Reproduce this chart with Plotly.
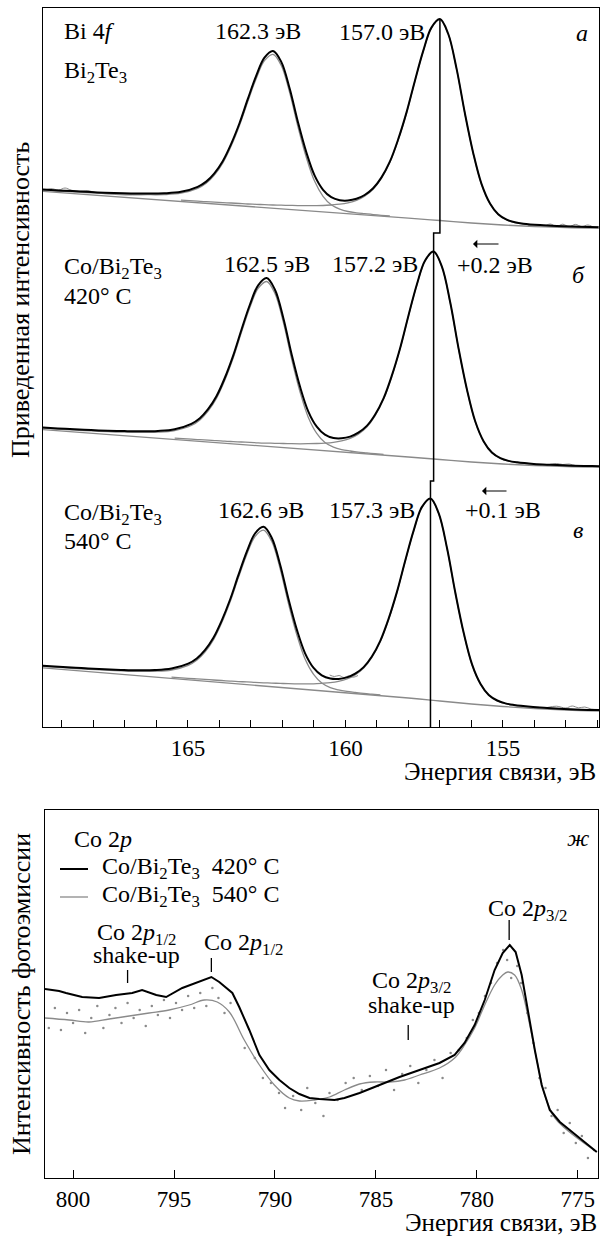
import plotly.graph_objects as go

# ---------------- Bi 4f spectra (upper plot) ----------------
# binding energies (eV) and normalised intensities (arb. units)
E_a = [169.62, 169.46, 168.93, 168.40, 167.87, 167.34, 166.81, 166.28, 165.75, 165.22, 164.69,
       164.42, 164.16, 163.89, 163.63, 163.36, 163.10, 162.83, 162.57, 162.30, 162.04, 161.77,
       161.51, 161.24, 160.98, 160.71, 160.45, 160.18, 159.92, 159.65, 159.39, 159.12, 158.86,
       158.59, 158.33, 158.06, 157.80, 157.53, 157.27, 157.00, 156.74, 156.47, 156.21, 155.94,
       155.68, 155.41, 155.15, 154.88, 154.62, 154.35, 153.82, 153.29, 152.76, 152.23, 151.97]
fit_a = [537.5, 537.2, 536.3, 535.5, 534.6, 534.0, 533.6, 533.4, 533.7, 535.2, 540.2,
         545.4, 553.7, 566.1, 582.9, 604.0, 627.8, 651.3, 669.3, 676.0, 665.4, 638.5,
         605.2, 574.6, 551.6, 537.2, 529.8, 526.8, 526.5, 528.2, 532.0, 538.7, 549.4,
         565.3, 587.2, 614.6, 645.6, 676.1, 699.4, 707.9, 693.5, 658.1, 614.2, 573.6,
         543.1, 523.5, 512.7, 507.3, 504.7, 503.3, 501.9, 501.0, 500.4, 499.9, 499.8]
peak1_a = [536.9, 536.6, 535.6, 534.7, 533.8, 533.1, 532.6, 532.3, 532.4, 533.8, 538.6,
           543.7, 551.9, 564.1, 580.7, 601.7, 625.3, 648.6, 666.3, 672.7, 661.7, 634.4,
           600.7, 569.5, 545.9, 530.7, 522.2, 517.8, 515.5, 514.2, 513.3, 512.4, 511.7, 511.0]
peak2_a = [526.8, 525.8, 525.3, 524.9, 524.4, 524.0, 523.5, 523.0, 522.7, 522.3, 522.0,
           521.8, 521.6, 521.4, 521.4, 521.4, 521.5, 522.0, 522.8, 524.2, 526.6, 530.8,
           537.7, 548.5, 564.6, 586.5, 614.0, 645.1, 675.6, 699.0, 707.5, 693.2, 657.8,
           613.9, 573.3, 542.8, 523.3, 512.5, 507.0, 504.4, 503.1, 501.7, 500.8, 500.2,
           499.7, 499.6]
bgE = [169.6, 158.0, 157.0, 156.0, 155.0, 154.0, 153.0, 151.95]
bg_a = [535.6, 508.8, 506.5, 504.0, 502.0, 500.5, 499.5, 499.0]

E_b = [169.66, 169.13, 168.60, 168.07, 167.54, 167.01, 166.48, 165.95, 165.42, 164.89,
       164.62, 164.36, 164.09, 163.83, 163.56, 163.30, 163.03, 162.77, 162.50, 162.24,
       161.97, 161.71, 161.44, 161.18, 160.91, 160.65, 160.38, 160.12, 159.85, 159.59,
       159.32, 159.06, 158.79, 158.53, 158.26, 158.00, 157.73, 157.47, 157.20, 156.94,
       156.67, 156.41, 156.14, 155.88, 155.61, 155.35, 155.08, 154.82, 154.55, 154.02,
       153.49, 152.96, 152.43, 152.17, 151.95]
fit_b = [299.6, 298.6, 297.7, 296.9, 296.3, 295.9, 295.7, 296.1, 297.8, 303.2,
         308.8, 317.8, 331.0, 349.0, 371.7, 397.3, 422.5, 441.7, 448.9, 437.5,
         408.8, 373.0, 340.2, 315.7, 300.3, 292.3, 289.0, 288.7, 290.4, 294.3,
         301.1, 312.2, 328.6, 351.1, 379.3, 411.3, 442.8, 466.6, 475.4, 460.7,
         424.2, 378.9, 337.2, 305.7, 285.5, 274.4, 268.8, 266.1, 264.7, 263.1,
         262.2, 261.5, 261.0, 260.9, 260.8]
peak1_b = [298.9, 297.9, 297.0, 296.1, 295.4, 294.8, 294.6, 294.8, 296.4, 301.5,
           307.1, 315.9, 328.9, 346.8, 369.3, 394.7, 419.7, 438.6, 445.5, 433.8,
           404.6, 368.4, 335.0, 309.8, 293.6, 284.4, 279.8, 277.4, 276.0, 274.9,
           274.1, 273.3, 272.6]
peak2_b = [288.9, 287.8, 287.3, 286.8, 286.4, 285.8, 285.4, 285.0, 284.7, 284.2,
           283.9, 283.7, 283.5, 283.3, 283.2, 283.3, 283.5, 283.9, 284.7, 286.2,
           288.7, 292.9, 300.0, 311.2, 327.8, 350.3, 378.7, 410.8, 442.3, 466.2,
           475.0, 460.4, 423.9, 378.6, 336.9, 305.4, 285.3, 274.2, 268.5, 265.8,
           264.5, 262.9, 262.0, 261.3, 260.8, 260.7, 260.6]
bg_b = [297.4, 270.0, 267.5, 265.0, 263.0, 261.5, 260.5, 260.0]

E_c = [169.76, 169.23, 168.70, 168.17, 167.64, 167.11, 166.58, 166.05, 165.52, 164.99,
       164.72, 164.46, 164.19, 163.93, 163.66, 163.40, 163.13, 162.87, 162.60, 162.34,
       162.07, 161.81, 161.54, 161.28, 161.01, 160.75, 160.48, 160.22, 159.95, 159.69,
       159.42, 159.16, 158.89, 158.63, 158.36, 158.10, 157.83, 157.57, 157.30, 157.04,
       156.77, 156.51, 156.24, 155.98, 155.71, 155.45, 155.18, 154.92, 154.65, 154.12,
       153.59, 153.06, 152.53, 152.27, 151.95]
fit_c = [61.6, 60.5, 59.4, 58.6, 57.7, 57.1, 56.7, 56.9, 58.4, 63.3,
         68.5, 76.8, 89.2, 106.2, 127.5, 151.6, 175.4, 193.5, 200.2, 189.3,
         162.0, 128.2, 97.1, 73.7, 59.1, 51.6, 48.4, 48.0, 49.6, 53.3,
         59.9, 70.5, 86.4, 108.1, 135.6, 166.5, 196.9, 220.1, 228.5, 213.8,
         178.2, 134.2, 93.4, 62.6, 43.0, 32.0, 26.5, 23.6, 22.1, 20.3,
         19.1, 18.1, 17.3, 17.1, 17.0]
peak1_c = [60.9, 59.8, 58.7, 57.7, 56.8, 56.1, 55.6, 55.7, 57.0, 61.7,
           66.8, 75.0, 87.2, 104.0, 125.2, 149.1, 172.6, 190.5, 196.9, 185.7,
           158.0, 123.7, 92.0, 68.0, 52.6, 44.0, 39.4, 37.1, 35.6, 34.6,
           33.6, 32.8, 32.0]
peak2_c = [49.9, 48.7, 48.1, 47.6, 47.0, 46.5, 45.9, 45.4, 45.1, 44.6,
           44.2, 43.9, 43.6, 43.3, 43.2, 43.1, 43.2, 43.7, 44.4, 45.7,
           48.0, 52.1, 58.9, 69.6, 85.6, 107.4, 135.0, 166.0, 196.4, 219.7,
           228.1, 213.5, 177.9, 133.9, 93.1, 62.3, 42.8, 31.8, 26.2, 23.3,
           21.9, 20.1, 18.9, 17.9, 17.1, 16.9, 16.8]
bg_c = [59.2, 29.0, 26.0, 23.0, 20.5, 18.5, 17.0, 16.0]

# raw (noisy) data visible where it departs from the fit
raw_a1_E = [169.6, 169.35, 169.1, 168.9, 168.7, 168.45, 168.2, 167.9, 167.5, 167.0, 166.5, 166.0]
raw_a1_I = [536.0, 538.3, 537.0, 539.0, 536.8, 535.5, 536.4, 534.3, 533.0, 532.0, 532.2, 533.0]
raw_a2_E = [154.2, 153.9, 153.7, 153.5, 153.3, 153.1, 152.9, 152.7, 152.5, 152.3, 152.1, 151.95]
raw_a2_I = [501.5, 502.5, 500.8, 503.0, 500.5, 502.8, 500.2, 502.6, 500.4, 502.0, 499.8, 500.5]
raw_b_E = [153.6, 153.3, 153.1, 152.9, 152.7, 152.5]
raw_b_I = [262.0, 263.5, 262.5, 263.0, 261.5, 261.0]
raw_c1_E = [160.5, 160.35, 160.2, 160.05, 159.9, 159.75, 159.6]
raw_c1_I = [52.0, 50.5, 51.5, 49.5, 51.0, 49.8, 51.5]
raw_c2_E = [153.6, 153.3, 153.0, 152.8, 152.6, 152.4, 152.2, 151.95]
raw_c2_I = [19.5, 20.8, 19.0, 21.0, 19.2, 20.0, 18.0, 17.5]

# 4f7/2 peak-position marker (staircase 157.0 -> 157.2 -> 157.3 eV)
mark_E = [157.0, 157.0, 157.2, 157.2, 157.3, 157.3]
mark_I = [707.9, 494.0, 494.0, 246.0, 246.0, 0.0]

# ---------------- Co 2p spectra (lower plot) ----------------
co420_E = [801.39, 800.69, 800.35, 799.55, 798.71, 797.87, 797.07, 796.58, 795.88, 795.39,
           794.59, 793.75, 793.15, 792.76, 792.11, 791.77, 791.27, 790.77, 790.28, 789.78,
           789.29, 788.79, 788.29, 787.80, 787.05, 786.56, 785.81, 784.82, 783.83, 782.84,
           781.85, 781.10, 780.61, 780.11, 779.61, 779.12, 778.72, 778.37, 778.08, 777.78,
           777.48, 777.13, 776.79, 776.39, 775.89, 775.40, 774.90, 774.40, 774.06]
co420_I = [189, 187, 185, 181, 180, 183, 185, 188, 183, 181,
           190, 196, 201, 196, 185, 171, 148, 123, 108, 98,
           90, 84, 80, 79, 78, 80, 85, 93, 101, 108,
           115, 123, 135, 153, 178, 208, 225, 233, 226, 203,
           168, 128, 93, 68, 56, 48, 40, 32, 26]
co540_E = [801.39, 800.20, 799.21, 798.21, 797.22, 796.23, 795.24, 794.25, 793.50, 792.86,
           792.26, 791.52, 790.77, 790.03, 789.29, 788.79, 788.05, 787.30, 786.56, 785.81,
           785.07, 784.33, 783.58, 782.84, 781.85, 781.10, 780.61, 780.11, 779.61, 779.12,
           778.72, 778.47, 778.13, 777.78, 777.38, 776.98, 776.64, 776.14, 775.65, 774.90,
           774.06]
co540_I = [160, 158, 156, 159, 162, 165, 168, 173, 178, 176,
           166, 138, 113, 93, 80, 77, 78, 81, 88, 94,
           96, 96, 98, 103, 110, 120, 133, 150, 173, 193,
           203, 206, 203, 188, 153, 113, 83, 60, 50, 38,
           26]
co540_raw_E = [801.2, 800.9, 800.6, 800.3, 800.0, 799.7, 799.4, 799.1, 798.8, 798.5,
               798.2, 797.9, 797.6, 797.3, 797.0, 796.7, 796.4, 796.1, 795.8, 795.5,
               795.2, 794.9, 794.6, 794.3, 794.0, 793.7, 793.4, 793.1, 792.8, 792.5,
               792.2, 791.5, 791.0, 790.6, 790.2, 789.8, 789.5, 789.1, 788.7, 788.4,
               788.0, 787.6, 787.3, 786.9, 786.5, 786.1, 785.7, 785.3, 784.9, 784.5,
               784.1, 783.7, 783.3, 782.9, 782.5, 782.1, 781.7, 781.3, 780.9, 780.5,
               780.2, 779.9, 779.6, 779.3, 779.0, 778.7, 778.5, 778.3, 778.0, 777.8,
               777.5, 777.2, 776.9, 776.6, 776.3, 776.0, 775.7, 775.4, 775.1, 774.8,
               774.5, 774.2]
co540_raw_I = [150, 170, 148, 165, 155, 168, 145, 160, 172, 150,
               163, 170, 155, 175, 160, 168, 152, 172, 163, 178,
               160, 175, 168, 182, 170, 185, 172, 190, 180, 165,
               175, 130, 120, 100, 95, 85, 70, 82, 68, 90,
               75, 62, 85, 78, 95, 100, 88, 102, 92, 108,
               88, 104, 112, 95, 108, 118, 100, 125, 128, 140,
               158, 165, 182, 195, 215, 228, 218, 200, 212, 195,
               165, 135, 100, 90, 62, 68, 45, 55, 35, 42,
               20, 28]
# feature markers (energy, bottom, top)
feat_E = [797.3, 793.15, 783.4, 778.4]
feat_lo = [195, 206, 138, 238]
feat_hi = [208, 220, 153, 258]

series_names = ["Co/Bi<sub>2</sub>Te<sub>3</sub>\u2002420° C",
                "Co/Bi<sub>2</sub>Te<sub>3</sub>\u2002540° C"]

# ---------------- figure ----------------
W, H = 601, 1237
ML, MR, MT, MB = 43, 2, 8, 59
FONT = "Liberation Serif"
GRAY = "#8a8a8a"


def px(x):
    return (x - ML) / (W - ML - MR)


def py(y):
    return (H - MB - y) / (H - MT - MB)


fig = go.Figure()


def add_line(x, y, color, width, xa="x", ya="y", shape="spline", **kw):
    fig.add_trace(go.Scatter(x=x, y=y, mode="lines", xaxis=xa, yaxis=ya,
                             line=dict(color=color, width=width, shape=shape),
                             hoverinfo="skip", showlegend=False, **kw))


for bg, p1, p2, E in [(bg_a, peak1_a, peak2_a, E_a), (bg_b, peak1_b, peak2_b, E_b),
                      (bg_c, peak1_c, peak2_c, E_c)]:
    add_line(bgE, bg, GRAY, 1.3)
    add_line(E[:len(p1)], p1, GRAY, 1.3)
    add_line(E[len(E) - len(p2):], p2, GRAY, 1.3)

for rx, ry in [(raw_a1_E, raw_a1_I), (raw_a2_E, raw_a2_I), (raw_b_E, raw_b_I),
               (raw_c1_E, raw_c1_I), (raw_c2_E, raw_c2_I)]:
    add_line(rx, ry, GRAY, 1.0)

for E, f in [(E_a, fit_a), (E_b, fit_b), (E_c, fit_c)]:
    add_line(E, f, "black", 2.0)

add_line(mark_E, mark_I, "black", 1.5, shape="linear")

# lower plot
fig.add_trace(go.Scatter(x=co540_raw_E, y=co540_raw_I, mode="markers", xaxis="x2", yaxis="y2",
                         marker=dict(color=GRAY, size=2.5), hoverinfo="skip", showlegend=False))
add_line(co540_E, co540_I, GRAY, 1.3, xa="x2", ya="y2", name=series_names[1])
add_line(co420_E, co420_I, "black", 2.0, xa="x2", ya="y2", shape="linear", name=series_names[0])
mx, my = [], []
for e, lo, hi in zip(feat_E, feat_lo, feat_hi):
    mx += [e, e, None]
    my += [lo, hi, None]
add_line(mx, my, "black", 1.3, xa="x2", ya="y2", shape="linear")

axis_common = dict(showline=True, linecolor="black", linewidth=1.3, mirror=True,
                   showgrid=False, zeroline=False,
                   tickfont=dict(family=FONT, size=23, color="black"))

fig.update_layout(
    width=W, height=H, margin=dict(l=ML, r=MR, t=MT, b=MB),
    paper_bgcolor="white", plot_bgcolor="white",
    font=dict(family=FONT, size=23, color="black"),
    xaxis=dict(range=[169.6, 151.95], domain=[0, 1], anchor="y", dtick=5, tick0=0,
               ticks="inside", ticklen=7, tickwidth=1.2, tickcolor="black",
               minor=dict(dtick=1, ticks="inside", ticklen=7, tickwidth=1.2, tickcolor="black"),
               **axis_common),
    yaxis=dict(range=[0, 719], domain=[py(727), 1], anchor="x", showticklabels=False,
               ticks="", **axis_common),
    xaxis2=dict(range=[801.39, 774.0], domain=[px(45), px(598)], anchor="y2", dtick=5,
                tick0=0, ticks="inside", ticklen=8, tickwidth=1.2, tickcolor="black",
                **axis_common),
    yaxis2=dict(range=[0, 368], domain=[0, py(810)], anchor="x2", showticklabels=False,
                ticks="", **axis_common),
    showlegend=False,
)

# legend (drawn inside the Co 2p frame as in the original)
shapes = []
for (y, col, wd) in [(869, "black", 2.0), (897, GRAY, 1.3)]:
    shapes.append(dict(type="line", xref="paper", yref="paper", x0=px(60), x1=px(88),
                       y0=py(y), y1=py(y), line=dict(color=col, width=wd)))
fig.update_layout(shapes=shapes)

ann = [
    ("Bi 4<i>f</i>", 62, 31, "left"),
    ("Bi<sub>2</sub>Te<sub>3</sub>", 62, 72, "left"),
    ("162.3 эВ", 258, 31, "center"),
    ("157.0 эВ", 382, 32, "center"),
    ("<i>a</i>", 582, 33, "center"),
    ("Co/Bi<sub>2</sub>Te<sub>3</sub>", 62, 268, "left"),
    ("420° C", 62, 296, "left"),
    ("162.5 эВ", 267, 264, "center"),
    ("157.2 эВ", 375, 264, "center"),
    ("+0.2 эВ", 495, 265, "center"),
    ("<i>б</i>", 578, 275, "center"),
    ("Co/Bi<sub>2</sub>Te<sub>3</sub>", 62, 514, "left"),
    ("540° C", 62, 541, "left"),
    ("162.6 эВ", 261, 510, "center"),
    ("157.3 эВ", 372, 510, "center"),
    ("+0.1 эВ", 503, 510, "center"),
    ("<i>в</i>", 578, 530, "center"),
    ("Co 2<i>p</i>", 72, 839, "left"),
    ("<i>ж</i>", 578, 838, "center"),
    (series_names[0], 100, 868, "left"),
    (series_names[1], 100, 896, "left"),
    ("Co 2<i>p</i><sub>1/2</sub>", 136, 934, "center"),
    ("shake-up", 136, 955, "center"),
    ("Co 2<i>p</i><sub>1/2</sub>", 243, 944, "center"),
    ("Co 2<i>p</i><sub>3/2</sub>", 527, 910, "center"),
    ("Co 2<i>p</i><sub>3/2</sub>", 411, 982, "center"),
    ("shake-up", 411, 1005, "center"),
]
annotations = []
for t, x, y, xa in ann:
    annotations.append(dict(text=t, x=px(x), y=py(y), xref="paper", yref="paper",
                            xanchor=xa, yanchor="middle", showarrow=False,
                            font=dict(family=FONT, size=24, color="black")))
# thin left arrows (shift direction)
for x_tip, x_tail, y in [(473, 500, 244), (482, 508, 491)]:
    annotations.append(dict(text="", x=px(x_tip), y=py(y), xref="paper", yref="paper",
                            ax=x_tail - x_tip, ay=0, axref="pixel", ayref="pixel",
                            showarrow=True, arrowhead=1, arrowsize=1.2, arrowwidth=1.2,
                            arrowcolor="black", standoff=0, startstandoff=0))
annotations += [
    dict(text="Энергия связи, эВ", x=px(598), y=py(771), xref="paper", yref="paper",
         xanchor="right", yanchor="middle", showarrow=False,
         font=dict(family=FONT, size=25, color="black")),
    dict(text="Энергия связи, эВ", x=px(598), y=py(1237), xref="paper", yref="paper",
         xanchor="right", yanchor="bottom", showarrow=False, borderpad=0,
         font=dict(family=FONT, size=25, color="black")),
    dict(text="Приведенная интенсивность", x=px(20), y=py(300), xref="paper", yref="paper",
         xanchor="center", yanchor="middle", textangle=-90, showarrow=False,
         font=dict(family=FONT, size=26, color="black")),
    dict(text="Интенсивность фотоэмиссии", x=px(21), y=py(994), xref="paper", yref="paper",
         xanchor="center", yanchor="middle", textangle=-90, showarrow=False,
         font=dict(family=FONT, size=26, color="black")),
]
fig.update_layout(annotations=annotations)

fig.write_html("out.html", config={"displayModeBar": False},
               post_script="document.body.style.margin='0px';")
